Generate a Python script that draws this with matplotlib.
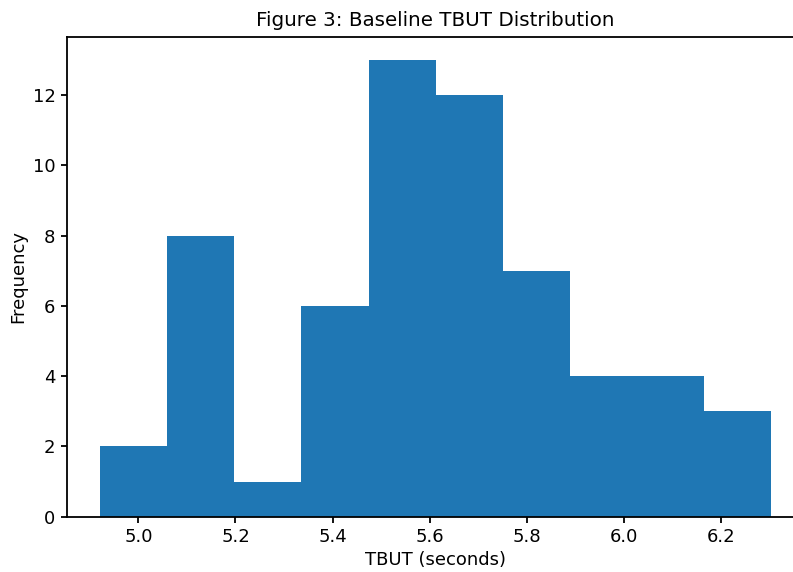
import numpy as np
import matplotlib
matplotlib.use('Agg')
import matplotlib.pyplot as plt

# Histogram bins
bin_edges = [4.921, 5.0593, 5.1976, 5.3359, 5.4742, 5.6125, 5.7508, 5.8891, 6.0274, 6.1657, 6.304]
counts = [2, 8, 1, 6, 13, 12, 7, 4, 4, 3]

plt.rcParams['font.size'] = 13
plt.rcParams['axes.linewidth'] = 1.3
plt.rcParams['xtick.major.width'] = 1.3
plt.rcParams['ytick.major.width'] = 1.3
plt.rcParams['xtick.major.size'] = 4.5
plt.rcParams['ytick.major.size'] = 4.5

fig = plt.figure(figsize=(7.93, 5.72), dpi=100)
ax = fig.add_axes([0.0839, 0.0967, 0.9309, 0.8386])

ax.hist(bin_edges[:-1], bins=bin_edges, weights=counts, color='#1f77b4')

ax.set_title('Figure 3: Baseline TBUT Distribution', fontsize=14.3, pad=8)
ax.set_xlabel('TBUT (seconds)')
ax.set_ylabel('Frequency')

fig.savefig('out.png', dpi=100)
